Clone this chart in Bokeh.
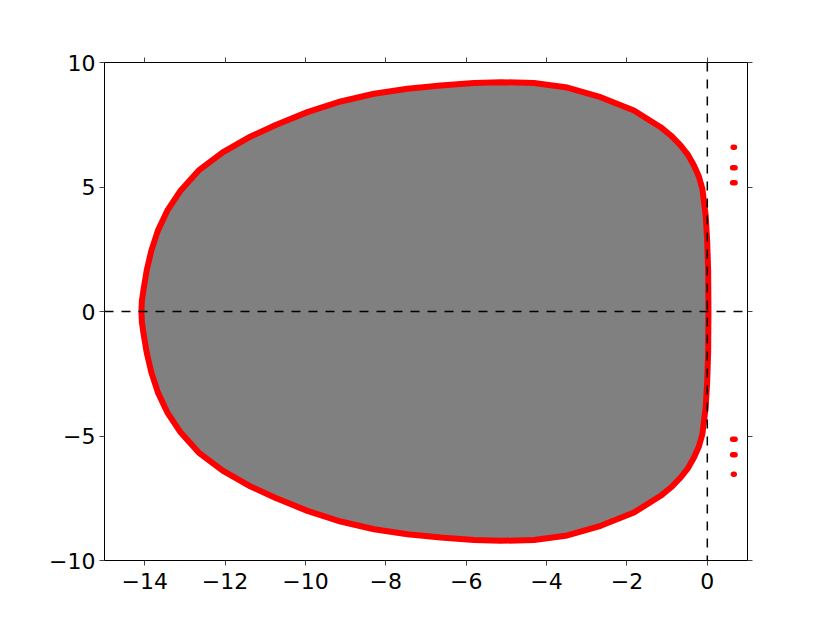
from bokeh.plotting import figure
from bokeh.models import Range1d, LinearAxis, FixedTicker, Span, ColumnDataSource
from bokeh.embed import file_html
from bokeh.resources import INLINE

# Upper half of the stability-region boundary, left -> right
upper_x = [-14.082, -14.07, -14.032, -13.950, -13.833, -13.669, -13.435, -13.104, -12.656,
           -12.059, -11.362, -10.740, -9.951, -9.123, -8.294, -7.463, -6.635, -5.806,
           -5.142, -4.313, -3.482, -2.654, -1.825, -1.161, -0.900, -0.663, -0.480, -0.332,
           -0.210, -0.123, -0.041, -0.004, 0.021, 0.028]
upper_y = [0.0, 0.42, 0.849, 1.652, 2.455, 3.258, 4.060, 4.863, 5.666,
           6.388, 7.030, 7.492, 8.006, 8.435, 8.744, 8.945, 9.077, 9.178,
           9.210, 9.178, 8.995, 8.606, 8.073, 7.402, 7.06, 6.667, 6.29, 5.864,
           5.42, 4.929, 3.858, 2.855, 1.651, 0.0]

# Small isolated red blobs to the right of the imaginary axis
blob_x0 = [0.645, 0.63, 0.63, 0.63, 0.63, 0.65]
blob_x1 = [0.675, 0.69, 0.69, 0.69, 0.69, 0.67]
blob_y = [6.60, 5.77, 5.17, -5.13, -5.75, -6.54]

x_ticks = [-14, -12, -10, -8, -6, -4, -2, 0]
y_ticks = [-10, -5, 0, 5, 10]

# full closed boundary: upper half then mirrored lower half
lower_x = upper_x[-2:0:-1]
lower_y = [-v for v in upper_y[-2:0:-1]]
bx = upper_x + lower_x
by = upper_y + lower_y

def lab(v):
    return str(v).replace("-", "\u2212")

p = figure(width=814, height=607, output_backend="svg", toolbar_location=None,
           x_range=Range1d(-15, 1), y_range=Range1d(-10, 10),
           x_axis_location=None, y_axis_location=None,
           min_border_left=104, min_border_right=67, min_border_top=62, min_border_bottom=47)
p.grid.visible = False
p.background_fill_color = "white"
p.border_fill_color = "white"
p.outline_line_color = "black"
p.outline_line_width = 1

FONT = "DejaVu Sans"
for loc, ticks, show in [("below", x_ticks, True), ("above", x_ticks, False),
                         ("left", y_ticks, True), ("right", y_ticks, False)]:
    ax = LinearAxis(ticker=FixedTicker(ticks=ticks))
    ax.major_label_overrides = {t: lab(t) for t in ticks}
    ax.major_tick_in = 0
    ax.major_tick_out = 5
    ax.minor_tick_in = 0
    ax.minor_tick_out = 0
    ax.axis_line_color = "black"
    ax.axis_line_width = 1
    ax.major_tick_line_color = "#444444"
    ax.major_tick_line_width = 1
    ax.major_label_text_font = FONT
    ax.major_label_text_font_size = "22px"
    ax.major_label_text_color = "black" if show else None
    if loc == "below":
        ax.major_label_standoff = 7
    elif loc == "left":
        ax.major_label_standoff = 4
    p.add_layout(ax, loc)

src = ColumnDataSource(dict(x=bx, y=by))
p.patch("x", "y", source=src, fill_color="#808080", line_color="red", line_width=6,
        line_join="round")

bsrc = ColumnDataSource(dict(x0=blob_x0, x1=blob_x1, y=blob_y))
p.segment(x0="x0", y0="y", x1="x1", y1="y", source=bsrc, line_color="red",
          line_width=5.5, line_cap="round")

p.add_layout(Span(location=0, dimension="width", line_color="black",
                  line_width=1.5, line_dash="9 8"))
p.add_layout(Span(location=0, dimension="height", line_color="black",
                  line_width=1.5, line_dash="9 8"))

open("out.html", "w").write(file_html(p, INLINE))
